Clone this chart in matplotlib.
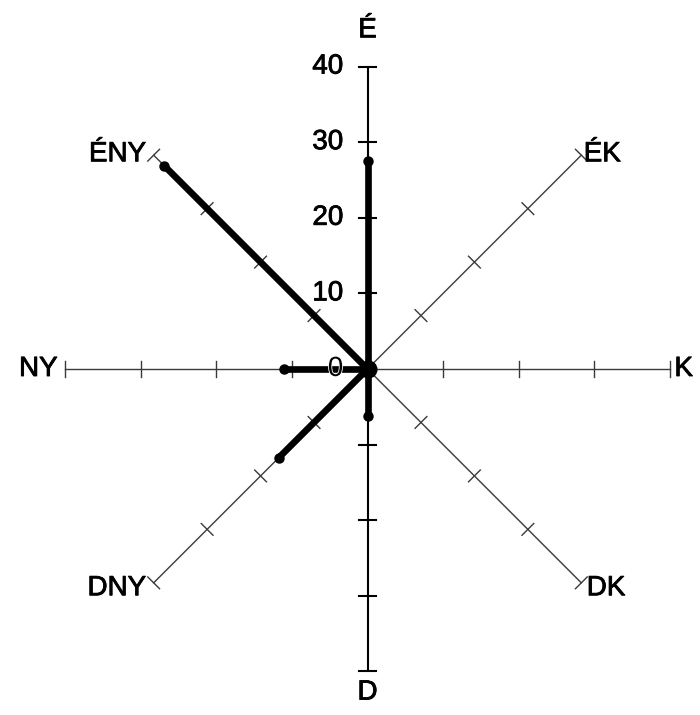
import numpy as np
import matplotlib
matplotlib.use('Agg')
import matplotlib.pyplot as plt
import matplotlib.patheffects as pe

plt.rcParams['font.family'] = ['Liberation Sans', 'DejaVu Sans']

# irányok az óramutató járása szerint, É-tól
directions = ['É', 'ÉK', 'K', 'DK', 'D', 'DNY', 'NY', 'ÉNY']
values = [27.5, 0, 0, 0, 6.2, 16.6, 11.0, 38.0]
ticks = [0, 10, 20, 30, 40]
rmax = 40

ppu = 7.56          # pixel / egység
cx, cy = 367.5, 369  # középpont pixelben
W, H = 700, 715

fig = plt.figure(figsize=(W / 100, H / 100), dpi=100)
ax = fig.add_axes([0, 0, 1, 1])
ax.set_xlim(-cx / ppu, (W - cx) / ppu)
ax.set_ylim(-(H - cy) / ppu, cy / ppu)
ax.axis('off')

angles = np.deg2rad(90 - 45 * np.arange(len(directions)))

# tengelyek
tl = 1.1
for i, a in enumerate(angles):
    ux, uy = np.cos(a), np.sin(a)
    main = (i == 0 or i == 4)
    col = 'black' if main else '#3a3a3a'
    lw = 1.5 if main else 1.0
    ax.plot([0, rmax * ux], [0, rmax * uy], color=col, lw=lw, zorder=1)
    for t in ticks[1:]:
        px, py = t * ux, t * uy
        ax.plot([px - tl * uy, px + tl * uy], [py + tl * ux, py - tl * ux],
                color=col, lw=lw, zorder=1)

# kicsit vastagabb betűk, mint az eredetin
bold = [pe.withStroke(linewidth=0.6, foreground='black')]

# értékcímkék
fs = 20
for t in ticks:
    ax.text(-3.2, t, str(t), ha='right', va='center', fontsize=fs, zorder=4,
            path_effects=[pe.withStroke(linewidth=1.2, foreground='white')] if t == 0 else bold)

# iránycímkék
lab = {
    'É': (0, 44.8, 'center', 'center'),
    'ÉK': (28.6, 28.4, 'left', 'center'),
    'K': (40.6, 0, 'left', 'center'),
    'DK': (29.0, -29.0, 'left', 'center'),
    'D': (0, -42.8, 'center', 'center'),
    'DNY': (-29.3, -29.0, 'right', 'center'),
    'NY': (-41.0, 0, 'right', 'center'),
    'ÉNY': (-29.3, 28.4, 'right', 'center'),
}
for d in directions:
    x, y, ha, va = lab[d]
    ax.text(x, y, d, ha=ha, va=va, fontsize=fs, path_effects=bold)

# küllők
for a, v in zip(angles, values):
    ex, ey = v * np.cos(a), v * np.sin(a)
    ax.plot([0, ex], [0, ey], color='black', lw=4.8, solid_capstyle='round', zorder=3)
    ax.plot([ex], [ey], 'o', color='black', ms=6.5, zorder=3)
ax.plot([0], [0], 'o', color='black', ms=12, zorder=3)

fig.savefig('out.png', dpi=100)
